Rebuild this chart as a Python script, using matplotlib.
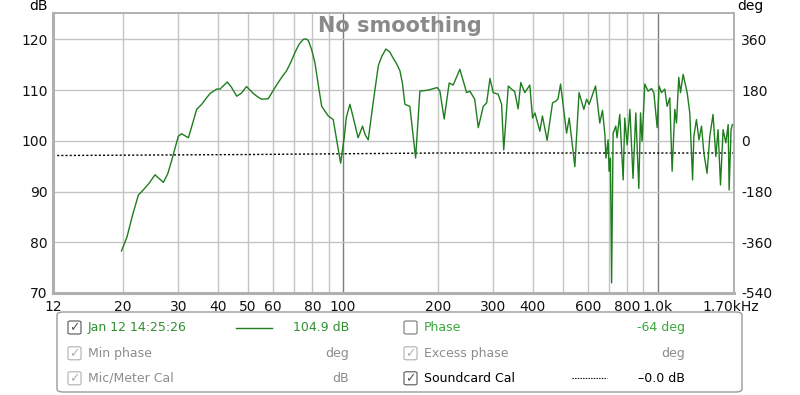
import numpy as np
import matplotlib.pyplot as plt
from matplotlib.patches import FancyBboxPatch

freq = [19.8, 20.6, 21.5, 22.4, 23.2, 24.2, 25.3, 26.9, 27.8, 28.6, 29.3, 30.0, 30.7, 32.3,
        33.3, 34.3, 35.6, 36.7, 37.8, 39.7, 40.7, 42.9, 44.2, 46.0, 47.6, 49.4, 51.8, 53.5,
        55.2, 57.9, 60.0, 62.3, 64.2, 66.2, 68.3, 70.4, 72.5, 74.8, 76.2, 77.6, 79.5, 81.4,
        83.5, 85.6, 89.8, 93.1, 95.5, 98.3, 101, 102.5, 105.2, 108, 111.7, 115.4, 117.6,
        120.3, 125, 129.5, 132.7, 136.9, 140.5, 144.4, 148, 151.7, 154.6,
        157.3, 163.1, 170.1, 175.5, 186.5, 199.2, 203.2, 209.6, 217.4, 223.9, 235.1,
        247, 253, 262, 269, 279, 286, 293, 300, 311, 319, 324, 335, 343, 351, 360, 367,
        378, 392, 400, 407, 422, 430, 445, 463, 474, 482, 491, 513, 523, 545, 562, 582,
        594, 605, 634, 654, 667, 679, 684, 695, 700, 707, 713, 721, 735, 742, 757, 776,
        785, 799, 815, 834, 851, 870, 881, 891, 909, 931, 955, 971, 995, 1009, 1027,
        1052, 1070, 1091, 1110, 1132, 1146, 1165, 1180, 1203, 1239, 1263, 1289, 1301,
        1326, 1351, 1376, 1400, 1433, 1462, 1497, 1528, 1553, 1581, 1611, 1644, 1672,
        1684, 1708, 1725]
spl = [78.3, 81.0, 85.5, 89.3, 90.3, 91.6, 93.3, 91.8, 93.6, 96.2, 98.6, 100.9, 101.4, 100.6,
       103.4, 106.2, 107.2, 108.3, 109.3, 110.2, 110.2, 111.6, 110.6, 108.8, 109.4, 110.7, 109.4, 108.7,
       108.2, 108.3, 109.9, 111.5, 112.7, 113.8, 115.5, 117.4, 119.0, 120.0, 120.1, 119.8, 118.0, 115.5,
       111.0, 106.8, 104.9, 104.2, 100.2, 95.6, 100.8, 104.6, 107.2, 104.4, 100.6, 102.9, 101.2,
       100.2, 108.0, 114.8, 116.6, 118.1, 117.6, 116.3, 115.2, 113.8, 111.2,
       107.2, 106.8, 96.6, 109.8, 110.0, 110.5, 109.8, 104.3, 111.4, 111.0, 114.1,
       109.5, 109.8, 108.2, 102.6, 106.8, 107.5, 112.3, 109.5, 109.2, 107.2, 98.2, 110.8, 110.2, 109.7, 106.3, 111.5,
       109.5, 111.0, 104.5, 105.5, 101.9, 104.9, 100.1, 107.5, 107.8, 108.3, 111.2, 101.5, 104.5, 94.9, 109.5, 106.2,
       108.2, 107.2, 110.8, 103.5, 106.0, 101.2, 96.6, 100.2, 94.0, 96.6, 72.0, 101.5, 102.9, 100.6, 105.2, 92.3,
       104.5, 99.2, 106.2, 92.6, 105.5, 90.6, 105.5, 99.9, 111.2, 109.8, 110.3, 109.5, 102.6, 110.8, 109.5,
       110.2, 106.8, 108.5, 94.0, 106.2, 103.5, 112.5, 109.5, 113.1, 109.5, 105.5, 92.3, 100.9,
       104.2, 100.2, 102.9, 97.6, 93.6, 100.9, 105.2, 96.9, 102.2, 91.3, 102.2, 99.6, 103.2,
       90.3, 102.2, 103.2]

# soundcard calibration (dotted)
cal_freq = [12, 50, 200, 1745]
cal_db = [97.1, 97.3, 97.6, 97.6]

xtick_vals = [12, 20, 30, 40, 50, 60, 80, 100, 200, 300, 400, 600, 800, 1000, 1700]
xtick_labels = ['12', '20', '30', '40', '50', '60', '80', '100', '200', '300', '400',
                '600', '800', '1.0k', '1.70kHz']
grid_freqs = [20, 30, 40, 50, 60, 70, 80, 90, 200, 300, 400, 500, 600, 700, 800, 900]
dark_grid = [100, 1000]
ytick_vals = [70, 80, 90, 100, 110, 120]
deg_labels = ['-540', '-360', '-180', '0', '180', '360']

fig = plt.figure(figsize=(8, 3.95), dpi=100)
ax = fig.add_axes([53/800, 1-293/395, 681/800, 280/395])
ax.set_xscale('log')
ax.set_xlim(12, 1745)
ax.set_ylim(70, 125.2)

for f in grid_freqs:
    ax.axvline(f, color='#c4c4c4', lw=1, zorder=1)
for f in dark_grid:
    ax.axvline(f, color='#7c7c7c', lw=1, zorder=1)
for v in ytick_vals[1:]:
    ax.axhline(v, color='#c4c4c4', lw=1, zorder=1)

ax.plot(cal_freq, cal_db, color='black', lw=1, ls=(0, (1.5, 1.5)), zorder=2)
ax.plot(freq, spl, color='#1f7d1f', lw=1.0, zorder=3)

ax.set_xticks(xtick_vals)
ax.set_xticklabels(xtick_labels)
ax.xaxis.set_minor_locator(plt.NullLocator())
ax.set_yticks(ytick_vals)
ax.set_yticklabels([str(v) for v in ytick_vals])
ax.tick_params(length=0, labelsize=10, colors='#111111', pad=4)
ax.tick_params(axis='x', pad=5)

ax2 = ax.twinx()
ax2.set_ylim(ax.get_ylim())
ax2.set_yticks(ytick_vals)
ax2.set_yticklabels(deg_labels)
ax2.tick_params(length=0, labelsize=10, colors='#111111', pad=5)

for a in (ax, ax2):
    for s in a.spines.values():
        s.set_color('#b0b0b0')
        s.set_linewidth(1.2)
ax.spines['left'].set_linewidth(2.2)
ax.spines['bottom'].set_linewidth(2.2)

fig.text(38/800, 1-6/395, 'dB', fontsize=10, ha='center', va='center')
fig.text(750/800, 1-6/395, 'deg', fontsize=10, ha='center', va='center')
ax.text(0.5095, 0.955, 'No smoothing', transform=ax.transAxes, ha='center', va='center',
        fontsize=15, fontweight='bold', color='#8a8a8a')

# legend panel
box = FancyBboxPatch((57/800, 1-392/395), 685/800, 80/395,
                     boxstyle='round,pad=0,rounding_size=0.008',
                     transform=fig.transFigure, facecolor='white', edgecolor='#9a9a9a', lw=1)
fig.patches.append(box)

def checkbox(x, y, checked, col):
    w, h = 13/800, 13/395
    cb = FancyBboxPatch((x/800, 1-y/395-h/2), w, h, boxstyle='round,pad=0,rounding_size=0.003',
                        transform=fig.transFigure, facecolor='white', edgecolor=col, lw=0.8)
    fig.patches.append(cb)
    if checked:
        fig.text(x/800+w/2, 1-y/395, '\u2713', fontsize=9, ha='center', va='center', color=col)

rows = [327.5, 353.3, 378.3]
green = '#2f8f2f'
gray = '#8c8c8c'

checkbox(68, rows[0], True, '#555555')
fig.text(88/800, 1-rows[0]/395, 'Jan 12 14:25:26', fontsize=9, color=green, va='center')
fig.add_artist(plt.Line2D([236/800, 272/800], [1-rows[0]/395]*2, color='#1f7d1f', lw=1))
fig.text(349/800, 1-rows[0]/395, '104.9 dB', fontsize=9, color=green, va='center', ha='right')

checkbox(68, rows[1], True, '#b0b0b0')
fig.text(88/800, 1-rows[1]/395, 'Min phase', fontsize=9, color=gray, va='center')
fig.text(349/800, 1-rows[1]/395, 'deg', fontsize=9, color=gray, va='center', ha='right')

checkbox(68, rows[2], True, '#b0b0b0')
fig.text(88/800, 1-rows[2]/395, 'Mic/Meter Cal', fontsize=9, color=gray, va='center')
fig.text(349/800, 1-rows[2]/395, 'dB', fontsize=9, color=gray, va='center', ha='right')

checkbox(404, rows[0], False, '#777777')
fig.text(424/800, 1-rows[0]/395, 'Phase', fontsize=9, color='#3aa83a', va='center')
fig.text(685/800, 1-rows[0]/395, '-64 deg', fontsize=9, color='#3aa83a', va='center', ha='right')

checkbox(404, rows[1], True, '#b0b0b0')
fig.text(424/800, 1-rows[1]/395, 'Excess phase', fontsize=9, color=gray, va='center')
fig.text(685/800, 1-rows[1]/395, 'deg', fontsize=9, color=gray, va='center', ha='right')

checkbox(404, rows[2], True, '#555555')
fig.text(424/800, 1-rows[2]/395, 'Soundcard Cal', fontsize=9, color='black', va='center')
fig.add_artist(plt.Line2D([572/800, 607/800], [1-rows[2]/395]*2, color='black', lw=0.8,
                          ls=(0, (1.2, 1.2))))
fig.text(685/800, 1-rows[2]/395, '\u20130.0 dB', fontsize=9, color='black', va='center', ha='right')

fig.savefig('out.png', dpi=100)
